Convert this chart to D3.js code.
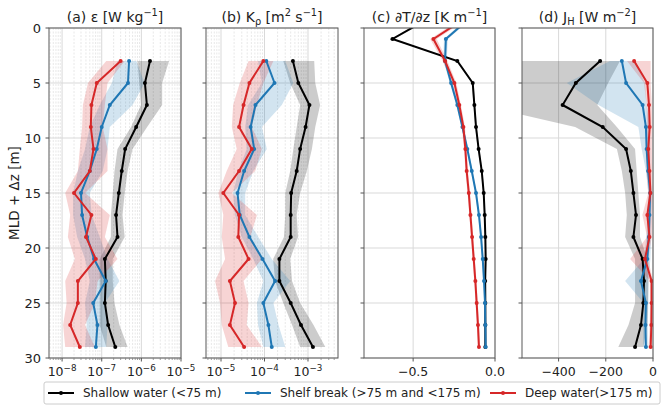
<!DOCTYPE html>
<html>
<head>
<meta charset="utf-8">
<script src="https://cdn.jsdelivr.net/npm/d3@7"></script>
<style>
  body { margin: 0; background: #fff; }
  svg { display: block; font-family: "DejaVu Sans", sans-serif; }
</style>
</head>
<body>
<svg width="663" height="405"></svg>
<script>
/* global d3 */

// depth levels below the mixed layer (m)
const depths = [3, 5, 7, 9, 11, 13, 15, 17, 19, 21, 23, 25, 27, 29]
const gradDepths = [-1, 1, 3, 5, 7, 9, 11, 13, 15, 17, 19, 21, 23, 25, 27, 29]

// (a) dissipation rate epsilon [W kg-1]
const epsShallow = [1.65e-6, 1.23e-6, 1.38e-6, 7.4e-7, 3.9e-7, 3.2e-7, 2.7e-7, 2.3e-7, 2.5e-7, 1.2e-7, 1.26e-7, 1.2e-7, 1.45e-7, 2.2e-7]
const epsShallowLo = [7.9e-7, 8.9e-7, 9.8e-7, 5.5e-7, 2.5e-7, 2.1e-7, 1.9e-7, 1.7e-7, 1.7e-7, 8.9e-8, 8.9e-8, 8.9e-8, 8.9e-8, 1.3e-7]
const epsShallowHi = [5e-6, 3.35e-6, 3.35e-6, 1.4e-6, 6e-7, 4.5e-7, 3.8e-7, 3.35e-7, 3.8e-7, 1.9e-7, 1.9e-7, 2.1e-7, 2.8e-7, 4.5e-7]
const epsShelf = [4.9e-7, 4.6e-7, 1.6e-7, 1.0e-7, 7.5e-8, 5.0e-8, 3.0e-8, 3.2e-8, 4.3e-8, 6.4e-8, 1.26e-7, 6.1e-8, 7.8e-8, 7.1e-8]
const epsShelfLo = [2.5e-7, 1.8e-7, 8.9e-8, 5e-8, 3.8e-8, 2.5e-8, 1.9e-8, 1.9e-8, 2.4e-8, 3.8e-8, 5e-8, 3.8e-8, 4.2e-8, 3.8e-8]
const epsShelfHi = [7.5e-7, 1.2e-6, 6e-7, 1.6e-7, 1.4e-7, 1.06e-7, 5e-8, 5.6e-8, 8.9e-8, 1.4e-7, 2.8e-7, 1.2e-7, 1.4e-7, 1.3e-7]
const epsDeep = [3.0e-7, 7.5e-8, 5.5e-8, 5.3e-8, 6.2e-8, 5.0e-8, 2.0e-8, 5.5e-8, 4.0e-8, 7.1e-8, 2.5e-8, 2.5e-8, 1.6e-8, 2.8e-8]
const epsDeepLo = [1.3e-7, 4.5e-8, 3.35e-8, 3.2e-8, 2.8e-8, 2.5e-8, 1.2e-8, 1.6e-8, 1.4e-8, 2.1e-8, 1.2e-8, 1.3e-8, 1.06e-8, 1.2e-8]
const epsDeepHi = [3.8e-7, 1.4e-7, 1.2e-7, 1.06e-7, 1.4e-7, 1.4e-7, 3.8e-8, 1.6e-7, 1.2e-7, 2.5e-7, 7.9e-8, 6.7e-8, 3.8e-8, 6.7e-8]

// (b) diapycnal diffusivity K_rho [m2 s-1]
const kShallow = [4.5e-4, 6.0e-4, 1.08e-3, 8.8e-4, 6.6e-4, 5.5e-4, 4.1e-4, 4.0e-4, 4.0e-4, 2.2e-4, 2.2e-4, 4.0e-4, 6.9e-4, 1.3e-3]
const kShallowLo = [2.7e-4, 3.9e-4, 6.6e-4, 5.5e-4, 4.6e-4, 3.9e-4, 3.0e-4, 3.0e-4, 2.8e-4, 1.58e-4, 1.75e-4, 2.7e-4, 4.3e-4, 6.6e-4]
const kShallowHi = [1.39e-3, 1.47e-3, 1.9e-3, 1.47e-3, 1.23e-3, 9.4e-4, 6.6e-4, 5.5e-4, 5.9e-4, 3.9e-4, 4.3e-4, 6.6e-4, 1.34e-3, 2.5e-3]
const kShelf = [1.1e-4, 1.7e-4, 6.2e-5, 4.8e-5, 5.8e-5, 3.4e-5, 2.4e-5, 2.7e-5, 4.5e-5, 9.0e-5, 1.75e-4, 9.4e-5, 1.23e-4, 1.47e-4]
const kShelfLo = [7.1e-5, 8.7e-5, 4.2e-5, 3.6e-5, 3.9e-5, 2.5e-5, 1.9e-5, 2.1e-5, 3.0e-5, 5.5e-5, 9.4e-5, 6.7e-5, 7.1e-5, 9.4e-5]
const kShelfHi = [3.0e-4, 4.6e-4, 2.5e-4, 8.7e-5, 1.13e-4, 5.5e-5, 3.6e-5, 3.6e-5, 7.2e-5, 1.47e-4, 3.9e-4, 1.6e-4, 2.1e-4, 3.0e-4]
const kDeep = [9.4e-5, 4.5e-5, 3.3e-5, 2.6e-5, 5.1e-5, 2.6e-5, 1.13e-5, 2.6e-5, 2.5e-5, 4.3e-5, 1.6e-5, 2.1e-5, 1.6e-5, 3.4e-5]
const kDeepLo = [4.3e-5, 2.7e-5, 1.9e-5, 1.77e-5, 2.3e-5, 1.35e-5, 8.7e-6, 1.13e-5, 1.04e-5, 1.24e-5, 7.3e-6, 9.5e-6, 1.04e-5, 1.47e-5]
const kDeepHi = [1.6e-4, 9.4e-5, 6.7e-5, 5.1e-5, 8.7e-5, 6.1e-5, 1.77e-5, 6.7e-5, 4.7e-5, 8.7e-5, 3.3e-5, 4.3e-5, 3.9e-5, 8.7e-5]

// (c) temperature gradient dT/dz [K m-1]
const dTdzShallow = [-0.39, -0.626, -0.23, -0.136, -0.126, -0.116, -0.1, -0.081, -0.069, -0.063, -0.059, -0.057, -0.06, -0.059, -0.059, -0.059]
const dTdzShallowErr = [0.01, 0.01, 0.008, 0.006, 0.005, 0.005, 0.005, 0.004, 0.004, 0.004, 0.004, 0.004, 0.004, 0.004, 0.004, 0.004]
const dTdzShelf = [-0.146, -0.30, -0.305, -0.268, -0.23, -0.199, -0.169, -0.142, -0.116, -0.098, -0.085, -0.075, -0.067, -0.061, -0.059, -0.057]
const dTdzShelfErr = [0.015, 0.012, 0.01, 0.008, 0.007, 0.006, 0.006, 0.005, 0.005, 0.005, 0.005, 0.005, 0.005, 0.005, 0.005, 0.005]
const dTdzDeep = [-0.17, -0.376, -0.305, -0.248, -0.218, -0.193, -0.181, -0.173, -0.16, -0.15, -0.14, -0.13, -0.12, -0.112, -0.104, -0.098]
const dTdzDeepErr = [0.02, 0.02, 0.015, 0.012, 0.01, 0.01, 0.008, 0.008, 0.008, 0.007, 0.007, 0.007, 0.007, 0.007, 0.007, 0.007]

// (d) turbulent heat flux J_H [W m-2]
const jhShallow = [-224, -327, -383, -213, -114, -94, -83, -72, -83, -44, -38, -41, -51, -76]
const jhShallowLo = [-700, -740, -735, -330, -153, -132, -118, -111, -118, -76, -76, -76, -104, -147]
const jhShallowHi = [-140, -190, -236, -153, -76, -69, -62, -55, -55, -24, -19, -21, -24, -41]
const jhShelf = [-132, -114, -44, -30, -27, -21, -12, -15, -18, -24, -51, -30, -32, -30]
const jhShelfLo = [-182, -365, -231, -62, -48, -30, -20, -24, -28, -38, -118, -40, -42, -42]
const jhShelfHi = [-76, -34, -27, -13, -12, -12, -5, -7, -8, -11, -20, -20, -22, -20]
const jhDeep = [-80, -24, -17, -14, -20, -15, -11, -24, -15, -34, -6, -6, -7, -10]
const jhDeepLo = [-110, -38, -27, -25, -30, -28, -20, -45, -25, -97, -12, -12, -14, -18]
const jhDeepHi = [-10, -10, -5, -5, -5, -4, -3, -4, -5, -21, 0, 0, -1, -3]

const yTicks = [0, 5, 10, 15, 20, 25, 30]
const legendLabels = ['Shallow water (<75 m)', 'Shelf break (>75 m and <175 m)', 'Deep water(>175 m)']
const colors = ['#000000', '#1f77b4', '#d62728']

const svg = d3.select('svg')
const plotTop = 28
const plotBottom = 358

const yScale = d3.scaleLinear().domain([0, 30]).range([plotTop, plotBottom])

const band = (z, v, lo, hi) => z.map((d, i) => ({ z: d, v: v[i], lo: lo[i], hi: hi[i] }))
const errBand = (z, v, e) => z.map((d, i) => ({ z: d, v: v[i], lo: v[i] - e[i], hi: v[i] + e[i] }))

const panels = [
  {
    id: 'a',
    title: [['(a) ε [W kg', ''], ['−1', 'sup'], [']', '']],
    left: 49, right: 181, log: true,
    domain: [Math.pow(10, -8.33), 1e-5],
    ticks: [1e-8, 1e-7, 1e-6, 1e-5],
    series: [
      band(depths, epsShallow, epsShallowLo, epsShallowHi),
      band(depths, epsShelf, epsShelfLo, epsShelfHi),
      band(depths, epsDeep, epsDeepLo, epsDeepHi)
    ]
  },
  {
    id: 'b',
    title: [['(b) K', ''], ['ρ', 'sub'], [' [m', ''], ['2', 'sup'], [' s', ''], ['−1', 'sup'], [']', '']],
    left: 206, right: 338, log: true,
    domain: [Math.pow(10, -5.345), Math.pow(10, -2.31)],
    ticks: [1e-5, 1e-4, 1e-3],
    series: [
      band(depths, kShallow, kShallowLo, kShallowHi),
      band(depths, kShelf, kShelfLo, kShelfHi),
      band(depths, kDeep, kDeepLo, kDeepHi)
    ]
  },
  {
    id: 'c',
    title: [['(c) ∂T/∂z [K m', ''], ['−1', 'sup'], [']', '']],
    left: 364, right: 495, log: false,
    domain: [-0.8, 0],
    ticks: [-0.5, 0],
    fmt: (d) => d.toFixed(1).replace('-', '−'),
    series: [
      errBand(gradDepths, dTdzShallow, dTdzShallowErr),
      errBand(gradDepths, dTdzShelf, dTdzShelfErr),
      errBand(gradDepths, dTdzDeep, dTdzDeepErr)
    ]
  },
  {
    id: 'd',
    title: [['(d) J', ''], ['H', 'sub'], [' [W m', ''], ['−2', 'sup'], [']', '']],
    left: 522, right: 653, log: false,
    domain: [-555, 0],
    ticks: [-400, -200, 0],
    fmt: (d) => String(d).replace('-', '−'),
    series: [
      band(depths, jhShallow, jhShallowLo, jhShallowHi),
      band(depths, jhShelf, jhShelfLo, jhShelfHi),
      band(depths, jhDeep, jhDeepLo, jhDeepHi)
    ]
  }
]

// write text with super/subscript pieces
function richText (sel, parts, size) {
  let shift = 0
  parts.forEach(([txt, kind]) => {
    const target = kind === 'sup' ? -size * 0.42 : kind === 'sub' ? size * 0.22 : 0
    sel.append('tspan')
      .attr('dy', target - shift)
      .attr('font-size', kind ? size * 0.7 : size)
      .text(txt)
    shift = target
  })
}

const defs = svg.append('defs')

panels.forEach((p) => {
  const x = (p.log ? d3.scaleLog() : d3.scaleLinear())
    .domain(p.domain)
    .range([p.left, p.right])

  const g = svg.append('g').attr('class', `panel-${p.id}`)

  // minor grid for log axes
  if (p.log) {
    const minor = []
    const lo = Math.floor(Math.log10(p.domain[0]))
    const hi = Math.ceil(Math.log10(p.domain[1]))
    for (let e = lo; e < hi; e++) {
      for (let m = 2; m <= 9; m++) {
        const v = m * Math.pow(10, e)
        if (v > p.domain[0] && v < p.domain[1]) minor.push(v)
      }
    }
    g.selectAll('line.minor').data(minor).enter().append('line')
      .attr('class', 'minor')
      .attr('x1', (d) => x(d)).attr('x2', (d) => x(d))
      .attr('y1', plotTop).attr('y2', plotBottom)
      .attr('stroke', '#e2e2e2')
      .attr('stroke-width', 0.8)
      .attr('stroke-dasharray', '2,1.5')
    g.selectAll('line.minortick').data(minor).enter().append('line')
      .attr('class', 'minortick')
      .attr('x1', (d) => x(d)).attr('x2', (d) => x(d))
      .attr('y1', plotBottom).attr('y2', plotBottom + 2)
      .attr('stroke', '#555')
      .attr('stroke-width', 0.6)
  }

  // major grid
  g.selectAll('line.vgrid').data(p.ticks).enter().append('line')
    .attr('class', 'vgrid')
    .attr('x1', (d) => x(d)).attr('x2', (d) => x(d))
    .attr('y1', plotTop).attr('y2', plotBottom)
    .attr('stroke', '#d9d9d9')
    .attr('stroke-width', 1)
  g.selectAll('line.hgrid').data(yTicks).enter().append('line')
    .attr('class', 'hgrid')
    .attr('x1', p.left).attr('x2', p.right)
    .attr('y1', (d) => yScale(d)).attr('y2', (d) => yScale(d))
    .attr('stroke', '#d9d9d9')
    .attr('stroke-width', 1)

  defs.append('clipPath').attr('id', `clip-${p.id}`)
    .append('rect')
    .attr('x', p.left).attr('y', plotTop)
    .attr('width', p.right - p.left).attr('height', plotBottom - plotTop)

  const plot = g.append('g').attr('clip-path', `url(#clip-${p.id})`)

  const area = d3.area()
    .x0((d) => x(d.lo))
    .x1((d) => x(d.hi))
    .y((d) => yScale(d.z))
  const line = d3.line()
    .x((d) => x(d.v))
    .y((d) => yScale(d.z))

  p.series.forEach((s, i) => {
    plot.append('path')
      .datum(s)
      .attr('d', area)
      .attr('fill', colors[i])
      .attr('fill-opacity', 0.2)
  })
  p.series.forEach((s, i) => {
    plot.append('path')
      .datum(s)
      .attr('d', line)
      .attr('fill', 'none')
      .attr('stroke', colors[i])
      .attr('stroke-width', 2)
    plot.selectAll(`circle.s${i}`).data(s).enter().append('circle')
      .attr('class', `s${i}`)
      .attr('cx', (d) => x(d.v))
      .attr('cy', (d) => yScale(d.z))
      .attr('r', 2)
      .attr('fill', colors[i])
  })

  // frame
  g.append('rect')
    .attr('x', p.left).attr('y', plotTop)
    .attr('width', p.right - p.left).attr('height', plotBottom - plotTop)
    .attr('fill', 'none')
    .attr('stroke', '#595959')
    .attr('stroke-width', 1)

  // y ticks
  g.selectAll('line.ytick').data(yTicks).enter().append('line')
    .attr('class', 'ytick')
    .attr('x1', p.left - 3.5).attr('x2', p.left)
    .attr('y1', (d) => yScale(d)).attr('y2', (d) => yScale(d))
    .attr('stroke', '#555')
  if (p.id === 'a') {
    g.selectAll('text.ylab').data(yTicks).enter().append('text')
      .attr('class', 'ylab')
      .attr('x', p.left - 8)
      .attr('y', (d) => yScale(d))
      .attr('text-anchor', 'end')
      .attr('dominant-baseline', 'central')
      .attr('font-size', 13)
      .attr('fill', '#222')
      .text((d) => d)
  }

  // x ticks
  g.selectAll('line.xtick').data(p.ticks).enter().append('line')
    .attr('class', 'xtick')
    .attr('x1', (d) => x(d)).attr('x2', (d) => x(d))
    .attr('y1', plotBottom).attr('y2', plotBottom + 3.5)
    .attr('stroke', '#555')
  p.ticks.forEach((t) => {
    const txt = g.append('text')
      .attr('x', x(t))
      .attr('y', plotBottom + 18)
      .attr('text-anchor', 'middle')
      .attr('font-size', 12.5)
      .attr('fill', '#222')
    if (p.log) {
      richText(txt, [['10', ''], ['−' + Math.round(-Math.log10(t)), 'sup']], 12.5)
    } else {
      txt.text(p.fmt(t))
    }
  })

  // title
  const title = g.append('text')
    .attr('x', (p.left + p.right) / 2)
    .attr('y', 22)
    .attr('text-anchor', 'middle')
    .attr('fill', '#222')
  richText(title, p.title, 14)
})

// y axis label
svg.append('text')
  .attr('transform', `translate(19, ${(plotTop + plotBottom) / 2}) rotate(-90)`)
  .attr('text-anchor', 'middle')
  .attr('font-size', 13.5)
  .attr('fill', '#222')
  .text('MLD + Δz [m]')

// legend
const legend = svg.append('g')
legend.append('rect')
  .attr('x', 44).attr('y', 382)
  .attr('width', 616).attr('height', 22)
  .attr('rx', 2)
  .attr('fill', '#fff')
  .attr('stroke', '#cccccc')
  .attr('stroke-width', 1)

const legendX = [48, 245, 490]
legendLabels.forEach((lab, i) => {
  const lx = legendX[i]
  legend.append('line')
    .attr('x1', lx).attr('x2', lx + 26)
    .attr('y1', 393).attr('y2', 393)
    .attr('stroke', colors[i])
    .attr('stroke-width', 2)
  legend.append('circle')
    .attr('cx', lx + 13).attr('cy', 393).attr('r', 2)
    .attr('fill', colors[i])
  legend.append('text')
    .attr('x', lx + 35).attr('y', 393)
    .attr('dominant-baseline', 'central')
    .attr('font-size', 12)
    .attr('fill', '#222')
    .text(lab)
})
</script>
</body>
</html>
